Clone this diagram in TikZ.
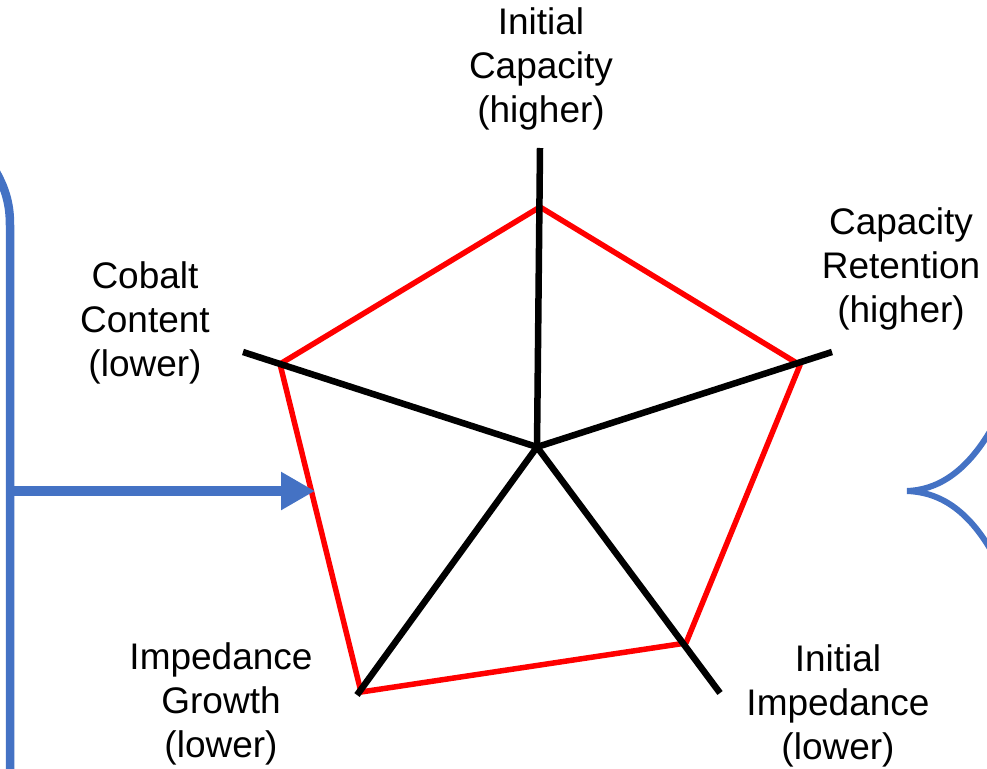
\documentclass[tikz,border=0pt]{standalone}
\usepackage{fontspec}
\setmainfont{Liberation Sans}
\usetikzlibrary{arrows.meta}
\definecolor{bblue}{HTML}{4472C4}
\begin{document}
\begin{tikzpicture}[x=1pt,y=-1pt,
  lbl/.style={align=center,font=\fontsize{37}{44}\selectfont,inner sep=0pt},
  axis/.style={draw=black,line width=6.5pt},
  poly/.style={draw=red,line width=5.5pt,line join=round},
  bluel/.style={draw=bblue,line width=8.5pt}]
\useasboundingbox (0,0) rectangle (987,768);
\coordinate (c) at (537,447);
\coordinate (a1) at (540,148);
\coordinate (a2) at (832,352);
\coordinate (a3) at (720,693);
\coordinate (a4) at (357,695);
\coordinate (a5) at (243,352);
\coordinate (p1) at (540,207);
\coordinate (p2) at (800,365);
\coordinate (p3) at (686,643);
\coordinate (p4) at (361,692);
\coordinate (p5) at (280,364);
\draw[poly] (p1) -- (p2) -- (p3) -- (p4) -- (p5) -- cycle;
\foreach \i in {1,...,5} \draw[axis] (c) -- (a\i);
\node[lbl] (t1) at (541,69) {Initial\\Capacity\\(higher)};
\node[lbl] (t2) at (901,269) {Capacity\\Retention\\(higher)};
\node[lbl] (t5) at (145,323) {Cobalt\\Content\\(lower)};
\node[lbl] (t4) at (221,704) {Impedance\\Growth\\(lower)};
\node[lbl] (t3) at (838,706) {Initial\\Impedance\\(lower)};
% left bracket
\coordinate (lb0) at (-4,172);
\coordinate (lb1) at (10,225);
\coordinate (lb2) at (10,772);
\draw[bluel] (lb0) .. controls (6,190) and (10,205) .. (lb1) -- (lb2);
\coordinate (as) at (10,491);
\coordinate (ae) at (315,491);
\draw[draw=bblue,line width=10pt,-{Triangle[length=34pt,width=36pt]}] (as) -- (ae);
% right brace
\coordinate (rb0) at (992,428);
\coordinate (rb1) at (907,491);
\coordinate (rb2) at (992,552);
\draw[draw=bblue,line width=6pt,line cap=round] (rb0) .. controls (965,475) and (935,490) .. (rb1) .. controls (935,492) and (965,505) .. (rb2);
\end{tikzpicture}
\end{document}
